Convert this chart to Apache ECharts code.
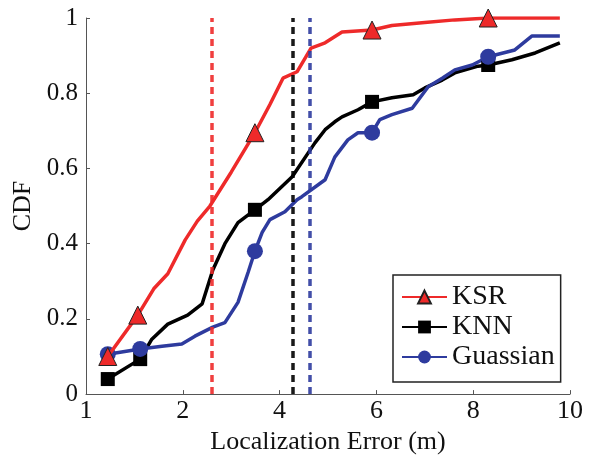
<!DOCTYPE html>
<html>
<head>
<meta charset="utf-8">
<script src="https://cdn.jsdelivr.net/npm/echarts@6/dist/echarts.min.js"></script>
<style>
  html, body { margin: 0; padding: 0; background: #fff; }
  #chart { width: 594px; height: 460px; }
</style>
</head>
<body>
<div id="chart"></div>
<script>
// x positions are in axis units (0..10), tick labels shown as in the figure
const xTickLabels = ["1", "2", "4", "6", "8", "10"];

const ksrX = [0.45, 1.07, 1.4, 1.69, 2.05, 2.3, 2.56, 3.0, 3.49, 3.8, 4.07, 4.36, 4.65, 4.94, 5.29, 5.91, 6.32, 7.0, 7.62, 8.31, 9.79];
const ksrY = [0.10, 0.21, 0.28, 0.32, 0.41, 0.46, 0.50, 0.59, 0.695, 0.77, 0.84, 0.857, 0.92, 0.934, 0.963, 0.968, 0.98, 0.988, 0.995, 1.0, 1.0];
const ksrMarks = [0, 1, 8, 15, 19];

const knnX = [0.45, 1.12, 1.36, 1.69, 2.1, 2.4, 2.62, 2.87, 3.14, 3.49, 3.76, 4.26, 4.73, 4.94, 5.14, 5.29, 5.62, 5.91, 6.32, 6.76, 7.0, 7.36, 7.62, 8.1, 8.31, 8.8, 9.28, 9.79];
const knnY = [0.04, 0.093, 0.146, 0.186, 0.21, 0.24, 0.33, 0.40, 0.456, 0.49, 0.517, 0.578, 0.668, 0.703, 0.724, 0.737, 0.756, 0.777, 0.788, 0.796, 0.814, 0.835, 0.854, 0.872, 0.875, 0.889, 0.907, 0.934];
const knnMarks = [0, 1, 9, 17, 24];

const gauX = [0.45, 1.12, 1.57, 1.98, 2.25, 2.62, 2.87, 3.14, 3.35, 3.49, 3.64, 3.8, 4.11, 4.36, 4.46, 4.94, 5.14, 5.41, 5.62, 5.91, 6.07, 6.32, 6.74, 7.07, 7.36, 7.62, 7.98, 8.31, 8.86, 9.21, 9.79];
const gauY = [0.106, 0.12, 0.127, 0.133, 0.154, 0.178, 0.19, 0.244, 0.324, 0.38, 0.43, 0.464, 0.485, 0.517, 0.525, 0.57, 0.63, 0.676, 0.695, 0.695, 0.73, 0.743, 0.76, 0.817, 0.84, 0.862, 0.875, 0.897, 0.915, 0.952, 0.952];
const gauMarks = [0, 1, 9, 19, 27];

// mean error lines (dashed)
const meanErr = { KSR: 2.6, KNN: 4.28, Guassian: 4.63 };

const serif = "'Liberation Serif', 'Times New Roman', serif";

function build(xs, ys, marks) {
  return xs.map((x, i) => marks.includes(i)
    ? { value: [x, ys[i]] }
    : { value: [x, ys[i]], symbol: "none" });
}

function lineSeries(name, color, symbol, size, xs, ys, marks) {
  return {
    name: name,
    type: "line",
    data: build(xs, ys, marks),
    symbol: symbol,
    symbolSize: size,
    showSymbol: true,
    showAllSymbol: true,
    z: name == "KSR" ? 4 : 3,
    lineStyle: { color: color, width: 3.5 },
    itemStyle: {
      color: color,
      borderColor: name == "KSR" ? "#222" : color,
      borderWidth: name == "KSR" ? 1 : 0,
    },
    markLine: {
      silent: true,
      symbol: "none",
      label: { show: false },
      lineStyle: { color: color, width: 3.5, type: [7, 5], opacity: 0.9 },
      data: [{ xAxis: meanErr[name] }],
    },
    animation: false,
  };
}

const myChart = echarts.init(document.getElementById("chart"));
myChart.setOption({
  animation: false,
  textStyle: { fontFamily: serif },
  grid: { left: 86, right: 24, top: 18, bottom: 65 },
  xAxis: {
    type: "value",
    min: 0,
    max: 10,
    interval: 2,
    name: "Localization Error (m)",
    nameLocation: "middle",
    nameGap: 32,
    nameTextStyle: { fontFamily: serif, fontSize: 26, color: "#111" },
    axisLine: { lineStyle: { color: "#555", width: 1 } },
    axisTick: { inside: true, length: 4, lineStyle: { color: "#555" } },
    axisLabel: {
      fontFamily: serif,
      fontSize: 26,
      color: "#111",
      margin: 4,
      formatter: (v) => xTickLabels[Math.round(v / 2)],
    },
    splitLine: { show: false },
  },
  yAxis: {
    type: "value",
    min: 0,
    max: 1,
    interval: 0.2,
    name: "CDF",
    nameLocation: "middle",
    nameRotate: 90,
    nameGap: 50,
    nameTextStyle: { fontFamily: serif, fontSize: 26, color: "#111" },
    axisLine: { show: true, lineStyle: { color: "#555", width: 1 } },
    axisTick: { show: true, inside: true, length: 4, lineStyle: { color: "#555" } },
    axisLabel: { fontFamily: serif, fontSize: 25, color: "#111", margin: 8 },
    splitLine: { show: false },
  },
  legend: {
    orient: "vertical",
    left: 393,
    top: 275,
    padding: [8, 6, 11, 8],
    itemGap: 2,
    itemWidth: 45,
    itemHeight: 16,
    borderColor: "#222",
    borderWidth: 1.5,
    backgroundColor: "#fff",
    textStyle: { fontFamily: serif, fontSize: 28, color: "#111" },
    data: ["KSR", "KNN", "Guassian"],
  },
  series: [
    lineSeries("KNN", "#000", "rect", 14, knnX, knnY, knnMarks),
    lineSeries("Guassian", "#2e3b9e", "circle", 16, gauX, gauY, gauMarks),
    lineSeries("KSR", "#ee2a2a", "triangle", 18, ksrX, ksrY, ksrMarks),
  ],
});
</script>
</body>
</html>
